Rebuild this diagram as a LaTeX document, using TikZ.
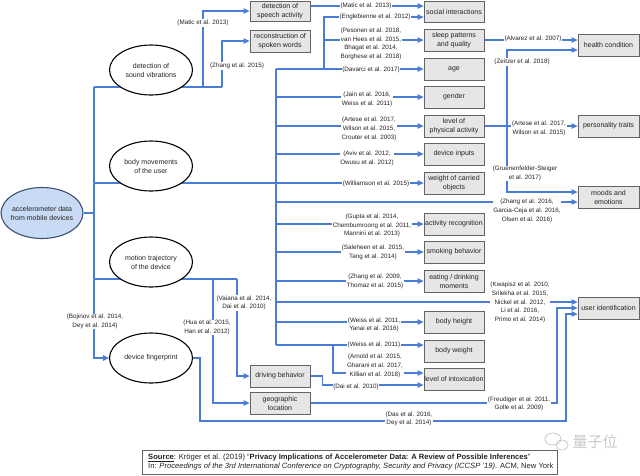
\documentclass[tikz,border=0pt]{standalone}
\usepackage{fontspec}
\setmainfont{Liberation Sans}
\newfontfamily\cjkfont{Noto Sans CJK SC}
\usetikzlibrary{arrows.meta,shapes.geometric,calc}
\pgfdeclarelayer{bg}
\pgfsetlayers{bg,main}
\definecolor{lnblue}{RGB}{74,125,214}
\definecolor{boxfill}{RGB}{230,230,230}
\definecolor{boxdraw}{RGB}{100,100,100}
\definecolor{accfill}{RGB}{201,219,244}
\definecolor{accdraw}{RGB}{60,80,120}
\definecolor{txt}{RGB}{35,35,35}
\definecolor{wmgray}{RGB}{200,200,200}
\begin{document}
\begin{tikzpicture}[x=1pt,y=-1pt,
 box/.style={draw=boxdraw, fill=boxfill, line width=0.8pt, minimum width=60pt, minimum height=22pt, inner sep=0.5pt, align=center, font=\fontsize{7}{9}\selectfont, text=txt},
 rbox/.style={box, minimum width=61pt},
 ell/.style={ellipse, draw=black, fill=white, line width=1.1pt, minimum width=83pt, minimum height=50pt, inner sep=0pt, align=center, font=\fontsize{7}{9}\selectfont, text=txt},
 cite/.style={fill=white, inner sep=0.6pt, align=center, font=\fontsize{6.3}{8.7}\selectfont, text=txt},
 ln/.style={draw=lnblue, line width=1.15pt},
 arr/.style={ln, -{Triangle[length=6pt,width=5.5pt]}},
]
\useasboundingbox (0,0) rectangle (640,475);

% ellipses
\node[ell, fill=accfill, draw=accdraw, minimum width=82pt, minimum height=51pt, inner xsep=-3pt] (acc) at (42,213) {accelerometer data\\from mobile devices};
\node[ell] (sound) at (151,70) {detection of\\sound vibrations};
\node[ell] (body) at (151,166) {body movements\\of the user};
\node[ell] (motion) at (151,262) {motion trajectory\\of the device};
\node[ell] (fp) at (151,358) {device fingerprint};

% boxes
\node[box, minimum height=20pt] (speech) at (280,11) {detection of\\speech activity};
\node[box] (recon) at (280,41) {reconstruction of\\spoken words};
\node[box] (drive) at (280,376) {driving behavior};
\node[box] (geo) at (280,403) {geographic\\location};
\node[box, minimum height=21pt] (social) at (454,12) {social interactions};
\node[box] (sleep) at (454,40) {sleep patterns\\and quality};
\node[box] (age) at (454,69) {age};
\node[box] (gender) at (454,97) {gender};
\node[box] (phys) at (454,126) {level of\\physical activity};
\node[box] (inputs) at (454,154) {device inputs};
\node[box] (carried) at (454,183) {weight of carried\\objects};
\node[box] (activity) at (454,224) {activity recognition};
\node[box] (smoking) at (454,252) {smoking behavior};
\node[box] (eating) at (454,281) {eating / drinking\\moments};
\node[box] (height) at (454,322) {body height};
\node[box] (bweight) at (454,351) {body weight};
\node[box] (intox) at (454,379) {level of intoxication};
\node[rbox] (health) at (608.5,45) {health condition};
\node[rbox] (personality) at (608.5,126) {personality traits};
\node[rbox] (moods) at (608.5,197) {moods and\\emotions};
\node[rbox] (userid) at (608.5,308) {user identification};

% junctions
\coordinate (t1) at (94,87);
\coordinate (s1) at (203,87);
\coordinate (s2) at (222,87);
\coordinate (tb) at (94,183);
\coordinate (tm) at (94,279);
\coordinate (m1) at (213,279);
\coordinate (m2) at (237,279);
\coordinate (b1) at (276,69);
\coordinate (b2) at (276,345);
\coordinate (e1) at (324,69);
\coordinate (w1) at (333,345);
\coordinate (p1) at (507,126);
\coordinate (mo) at ([yshift=-5pt]moods.west);
\coordinate (mg) at ([yshift=5pt]moods.west);
\coordinate (u1) at ([yshift=6pt]userid.west);
\coordinate (u3) at ([yshift=-6pt]userid.west);
\coordinate (fxu) at (userid.west -| 557,0);
\coordinate (dxu) at (u3 -| 566,0);
\coordinate (ia) at ([yshift=6pt]intox.west);
\coordinate (ib) at ([yshift=-6pt]intox.west);

\begin{pgfonlayer}{bg}
\draw[ln] (acc.east) -- (acc.east -| t1);
\draw[arr] (t1) |- (fp.west);
\draw[ln] (t1) -- (s2);
\draw[arr] (s1) |- (speech.west);
\draw[arr] (s2) |- (recon.west);
\draw[arr] ([yshift=5pt]speech.east) -- ([yshift=5pt]speech.east -| social.west);
\draw[arr] (tb) -- (carried.west);
\draw[ln] (b1) -- (b2);
\draw[arr] (b1) -- (age.west);
\draw[arr] (e1) |- ([yshift=-5pt]social.west);
\draw[arr] (e1 |- sleep.west) -- (sleep.west);
\draw[arr] (b1 |- gender.west) -- (gender.west);
\draw[arr] (b1 |- phys.west) -- (phys.west);
\draw[arr] (b1 |- inputs.west) -- (inputs.west);
\draw[arr] (b1 |- mo) -- (mo);
\draw[arr] (b1 |- activity.west) -- (activity.west);
\draw[arr] (b1 |- smoking.west) -- (smoking.west);
\draw[arr] (b1 |- eating.west) -- (eating.west);
\draw[arr] (b1 |- u1) -- (u1);
\draw[arr] (b1 |- height.west) -- (height.west);
\draw[arr] (b2) -- (b2 -| bweight.west);
\draw[arr] (w1) |- (ia);
\draw[ln] (tm) -- (m2);
\draw[arr] (m1) |- (geo.west);
\draw[arr] (m2) |- (drive.west);
\draw[arr] (drive.east) -- ++(12,0) |- (ib);
\draw[arr] (geo.east) -| (fxu) -- (userid.west);
\draw[arr] (fp.east) -- ++(7,0) |- (dxu |- 0,421) -- (dxu) -- (u3);
\draw[arr] (sleep.east) -- (sleep.east -| health.west);
\draw[arr] (phys.east) -- (personality.west);
\draw[arr] (p1) |- ([yshift=-5pt]health.west);
\draw[arr] (p1) |- (mg);
\end{pgfonlayer}

% citation labels
\node[cite] (c1) at (203,23) {(Matic et al. 2013)};
\node[cite] (c2) at (237,66) {(Zhang et al. 2015)};
\node[cite] (c3) at (366,6) {(Matic et al. 2013)};
\node[cite] (c4) at (375,17) {(Englebienne et al. 2012)};
\node[cite] (c5) at (371,44) {(Pesonen et al. 2018,\\van Hees et al. 2015,\\Bhagat et al. 2014,\\Borghese et al. 2018)};
\node[cite] (c6) at (371,70) {(Davarci et al. 2017)};
\node[cite] (c7) at (367,99.5) {(Jain et al. 2016,\\Weiss et al. 2011)};
\node[cite] (c8) at (369,129) {(Artese et al. 2017,\\Wilson et al. 2015,\\Crouter et al. 2003)};
\node[cite] (c9) at (367,158.5) {(Aviv et al. 2012,\\Owusu et al. 2012)};
\node[cite] (c10) at (376,184) {(Williamson et al. 2015)};
\node[cite] (c11) at (527,211) {(Zhang et al. 2016,\\Garcia-Ceja et al. 2016,\\Olsen et al. 2016)};
\node[cite] (c12) at (372,225.5) {(Gupta et al. 2014,\\Chembumroong et al. 2011,\\Mannini et al. 2013)};
\node[cite] (c13) at (373,252.5) {(Saleheen et al. 2015,\\Tang et al. 2014)};
\node[cite] (c14) at (375,281.5) {(Zhang et al. 2009,\\Thomaz et al. 2015)};
\node[cite] (c15) at (520,302.5) {(Kwapisz et al. 2010,\\Srilekha et al. 2015,\\Nickel et al. 2012,\\Li et al. 2016,\\Primo et al. 2014)};
\node[cite] (c16) at (374,325) {(Weiss et al. 2011,\\Yanai et al. 2016)};
\node[cite] (c17) at (374,345) {(Weiss et al. 2011)};
\node[cite] (c18) at (375,366) {(Arnold et al. 2015,\\Gharani et al. 2017,\\Killian et al. 2018)};
\node[cite] (c19) at (356,386.5) {(Dai et al. 2010)};
\node[cite] (c20) at (519,404) {(Freudiger et al. 2011,\\Golle et al. 2009)};
\node[cite] (c21) at (409,419) {(Das et al. 2016,\\Dey et al. 2014)};
\node[cite] (c22) at (533,39) {(Alvarez et al. 2007)};
\node[cite] (c23) at (522,62) {(Zeitzer et al. 2018)};
\node[cite] (c24) at (539,128.5) {(Artese et al. 2017,\\Wilson et al. 2015)};
\node[cite] (c25) at (525,173.5) {(Gruenenfelder-Steiger\\et al. 2017)};
\node[cite] (c26) at (244,303) {(Vaiana et al. 2014,\\Dai et al. 2010)};
\node[cite] (c27) at (207,327.5) {(Hua et al. 2015,\\Han et al. 2012)};
\node[cite] (c28) at (95,321.5) {(Bojinov et al. 2014,\\Dey et al. 2014)};

% source box
\node[draw=boxdraw, line width=0.8pt, minimum width=415pt, minimum height=24pt, anchor=north west, inner sep=0pt] (srcbox) at (142,450) {};
\node[anchor=west, align=left, inner sep=0pt, font=\fontsize{7.6}{9}\selectfont, text=txt] (src) at (148,462) {\underline{\textbf{Source}}: Kröger et al. (2019) “\textbf{Privacy Implications of Accelerometer Data: A Review of Possible Inferences}”\\In: \textit{Proceedings of the 3rd International Conference on Cryptography, Security and Privacy (ICCSP '19)}. ACM, New York};

% watermark
\draw[wmgray, line width=0.8pt] (553,439) ellipse (8 and 6);
\draw[wmgray, line width=0.8pt] (562,445) ellipse (6 and 5);
\node[text=wmgray, font=\cjkfont\fontsize{15}{15}\selectfont, inner sep=0pt] (wm) at (595,442) {量子位};
\end{tikzpicture}
\end{document}
